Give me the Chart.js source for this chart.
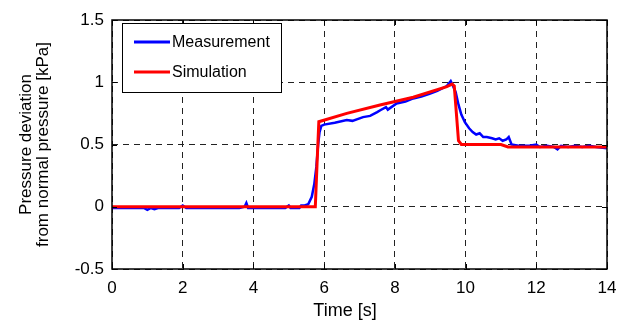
<!DOCTYPE html>
<html lang="en">
<head>
    <meta charset="UTF-8">
    <title>Pressure deviation</title>
    <style>
        body { margin: 0; background: #fff; }
        canvas { display: block; }
    </style>
</head>
<body>
    <canvas id="pressureChart" width="618" height="320"></canvas>
    <script src="https://cdn.jsdelivr.net/npm/chart.js"></script>
    <script>
        // measured pressure deviation [kPa] over time [s]
        const measTime = [0, 0.3, 0.6, 0.9, 1.0, 1.1, 1.2, 1.3, 1.6, 1.9, 2.0, 2.1, 2.4, 2.8, 3.2, 3.6, 3.75, 3.8, 3.85,
            4.2, 4.6, 4.9, 5.0, 5.05, 5.3, 5.35, 5.45, 5.55, 5.65, 5.72, 5.78, 5.83, 5.87, 5.92, 6.0, 6.3, 6.64, 6.8,
            7.1, 7.3, 7.5, 7.6, 7.75, 7.8, 8.05, 8.3, 8.52, 8.75, 9.0, 9.2, 9.47, 9.58, 9.63, 9.72, 9.8, 9.88, 9.98,
            10.1, 10.2, 10.3, 10.4, 10.5, 10.6, 10.75, 10.85, 10.95, 11.05, 11.15, 11.22, 11.3, 11.5, 11.8, 12.0, 12.1,
            12.3, 12.5, 12.6, 12.7, 12.9, 13.1, 13.3, 13.5, 13.7, 14];
        const measValues = [-0.01, -0.01, -0.01, -0.01, -0.025, -0.01, -0.02, -0.01, -0.01, -0.01, 0.01, -0.01, -0.01, -0.01, -0.01, -0.01, 0.0, 0.03, -0.01,
            -0.01, -0.01, -0.01, 0.01, -0.01, -0.01, 0.01, 0.01, 0.02, 0.08, 0.18, 0.32, 0.5, 0.6, 0.65, 0.66, 0.675, 0.697, 0.69,
            0.72, 0.73, 0.76, 0.777, 0.8, 0.78, 0.83, 0.845, 0.87, 0.885, 0.91, 0.93, 0.97, 1.01, 0.98, 0.92, 0.82, 0.74, 0.68,
            0.63, 0.6, 0.58, 0.59, 0.56, 0.56, 0.55, 0.54, 0.55, 0.53, 0.54, 0.56, 0.5, 0.49, 0.49, 0.5, 0.48,
            0.49, 0.48, 0.46, 0.49, 0.48, 0.49, 0.48, 0.49, 0.48, 0.47];

        // simulated pressure deviation
        const simTime = [0, 5.75, 5.8, 5.85, 6.64, 7.58, 8.52, 9.47, 9.62, 9.68, 9.74, 9.8, 9.88, 11.0, 11.2, 14];
        const simValues = [0, 0, 0.35, 0.683, 0.75, 0.817, 0.88, 0.965, 0.985, 0.97, 0.75, 0.53, 0.5, 0.5, 0.48, 0.48];

        const xTicks = [0, 2, 4, 6, 8, 10, 12, 14];
        const yTicks = [-0.5, 0, 0.5, 1, 1.5];

        const FONT = '"Liberation Sans", Arial, sans-serif';
        const toPoints = (xs, ys) => xs.map((x, i) => ({ x: x, y: ys[i] }));

        // MATLAB style box, inner tick marks, x label and boxed legend
        const matlabBox = {
            id: 'matlabBox',
            afterDraw(chart) {
                const ctx = chart.ctx;
                const a = chart.chartArea;
                const xs = chart.scales.x, ys = chart.scales.y;
                ctx.save();
                ctx.strokeStyle = '#000';
                ctx.lineWidth = 1;
                ctx.beginPath();
                xTicks.forEach(v => {
                    const px = Math.round(xs.getPixelForValue(v)) + 0.5;
                    ctx.moveTo(px, a.bottom); ctx.lineTo(px, a.bottom - 5);
                    ctx.moveTo(px, a.top); ctx.lineTo(px, a.top + 5);
                });
                yTicks.forEach(v => {
                    const py = Math.round(ys.getPixelForValue(v)) + 0.5;
                    ctx.moveTo(a.left, py); ctx.lineTo(a.left + 5, py);
                    ctx.moveTo(a.right, py); ctx.lineTo(a.right - 5, py);
                });
                ctx.stroke();
                ctx.lineWidth = 1.5;
                ctx.strokeRect(a.left, a.top, a.right - a.left, a.bottom - a.top);

                // x axis label (sits a bit left of the axis centre in the original)
                ctx.fillStyle = '#000';
                ctx.font = '18px ' + FONT;
                ctx.textAlign = 'center';
                ctx.textBaseline = 'alphabetic';
                ctx.fillText('Time [s]', 345, 316);

                // legend
                const lx = 122, ly = 23, lw = 159, lh = 69;
                ctx.fillStyle = '#fff';
                ctx.fillRect(lx, ly, lw, lh);
                ctx.lineWidth = 1;
                ctx.strokeRect(lx + 0.5, ly + 0.5, lw, lh);
                ctx.font = '16px ' + FONT;
                ctx.textBaseline = 'middle';
                ctx.textAlign = 'left';
                chart.data.datasets.forEach((ds, i) => {
                    const y = ly + 19 + i * 30;
                    ctx.strokeStyle = ds.borderColor;
                    ctx.lineWidth = 3;
                    ctx.beginPath();
                    ctx.moveTo(134, y); ctx.lineTo(170, y);
                    ctx.stroke();
                    ctx.fillStyle = '#000';
                    ctx.fillText(ds.label, 172, y + 1);
                });
                ctx.restore();
            }
        };

        const ctx = document.getElementById('pressureChart').getContext('2d');
        new Chart(ctx, {
            type: 'line',
            data: {
                datasets: [{
                    label: 'Measurement',
                    data: toPoints(measTime, measValues),
                    borderColor: '#0000ff',
                    borderWidth: 2.5,
                    pointRadius: 0,
                    tension: 0,
                    order: 1
                }, {
                    label: 'Simulation',
                    data: toPoints(simTime, simValues),
                    borderColor: '#ff0000',
                    borderWidth: 3,
                    pointRadius: 0,
                    tension: 0,
                    order: 0
                }]
            },
            options: {
                responsive: false,
                animation: false,
                layout: { padding: { top: 20, right: 11, left: 0, bottom: 0 } },
                plugins: {
                    legend: { display: false },
                    tooltip: { enabled: false }
                },
                scales: {
                    x: {
                        type: 'linear',
                        min: 0,
                        max: 14,
                        afterBuildTicks: s => { s.ticks = xTicks.map(v => ({ value: v })); },
                        afterFit: s => { s.height = 51; s.paddingLeft = 0; s.paddingRight = 0; },
                        grid: { color: '#222', lineWidth: 1, drawTicks: false },
                        border: { display: false, dash: [6, 5] },
                        ticks: {
                            color: '#000',
                            padding: 9,
                            maxRotation: 0,
                            callback: v => String(v),
                            font: { family: FONT, size: 17 }
                        }
                    },
                    y: {
                        type: 'linear',
                        min: -0.5,
                        max: 1.5,
                        afterBuildTicks: s => { s.ticks = yTicks.map(v => ({ value: v })); },
                        afterFit: s => { s.width = 112; s.paddingTop = 0; s.paddingBottom = 0; },
                        grid: { color: '#222', lineWidth: 1, drawTicks: false },
                        border: { display: false, dash: [6, 5] },
                        ticks: {
                            color: '#000',
                            padding: 8,
                            callback: v => String(v),
                            font: { family: FONT, size: 17 }
                        },
                        title: {
                            display: true,
                            text: ['Pressure deviation', 'from normal pressure [kPa]'],
                            color: '#000',
                            padding: { top: 18, bottom: 0 },
                            font: { family: FONT, size: 17, lineHeight: 1.0 }
                        }
                    }
                }
            },
            plugins: [matlabBox]
        });
    </script>
</body>
</html>
